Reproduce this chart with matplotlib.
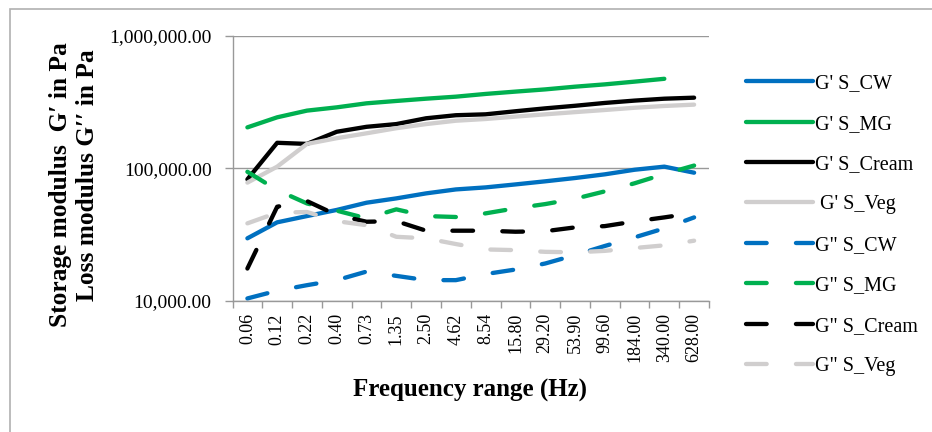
import matplotlib
matplotlib.use("Agg")
import matplotlib.pyplot as plt
import numpy as np
from matplotlib.patches import Rectangle
from matplotlib.ticker import FixedLocator, FuncFormatter, NullLocator

plt.rcParams['font.family'] = ['Liberation Serif', 'DejaVu Serif']

freq_labels = ["0.06", "0.12", "0.22", "0.40", "0.73", "1.35", "2.50", "4.62",
               "8.54", "15.80", "29.20", "53.90", "99.60", "184.00", "340.00", "628.00"]
nan = np.nan
gp_cw = [29600, 39100, 43600, 48500, 55000, 59300, 64700, 69300,
         71800, 75600, 79800, 84500, 90100, 97600, 103000, 92700]
gp_mg = [204000, 243000, 273000, 289000, 310000, 323000, 336000, 348000,
         365000, 380000, 395000, 414000, 431000, 452000, 475000, nan]
gp_cream = [82600, 156000, 153000, 189000, 206000, 216000, 239000, 252000,
            256000, 270000, 284000, 297000, 312000, 325000, 336000, 342000]
gp_veg = [78000, 103000, 153000, 169000, 184000, 201000, 216000, 229000,
          236000, 246000, 256000, 266000, 276000, 287000, 296000, 303000]
gpp_cw = [10400, 11900, 13100, 14300, 16600, 15400, 14300, 14300,
          15900, 17200, 19100, 22100, 25900, 30100, 35200, 42600]
gpp_mg = [94200, 68500, 54300, 47900, 41900, 49000, 43600, 42900,
          45700, 49900, 53700, 58900, 67000, 77100, 90600, 105000]
gpp_cream = [17500, 51300, 56600, 44400, 39500, 39900, 33800, 33800,
             33800, 33200, 33500, 35800, 36600, 39700, 42600, 46000]
gpp_veg = [38400, 46200, 46800, 39900, 37200, 30400, 29600, 26800,
           24400, 24100, 23400, 23200, 23800, 25000, 26200, 28400]

series = [
    ("G' S_CW", gp_cw, '#0070C0', False),
    ("G' S_MG", gp_mg, '#00B050', False),
    ("G' S_Cream", gp_cream, '#000000', False),
    (" G' S_Veg", gp_veg, '#D0CECE', False),
    ('G" S_CW', gpp_cw, '#0070C0', True),
    ('G" S_MG', gpp_mg, '#00B050', True),
    ('G" S_Cream', gpp_cream, '#000000', True),
    ('G" S_Veg', gpp_veg, '#D0CECE', True),
]

W, H = 932, 432
fig = plt.figure(figsize=(W / 100, H / 100), dpi=100)
ax = fig.add_axes([232.5 / W, 1 - 300.7 / H, (709 - 232.5) / W, (300.7 - 36) / H])

x = np.arange(len(freq_labels))
lw = 3.1
for name, vals, col, dashed in series:
    line, = ax.plot(x, vals, color=col, lw=lw, label=name,
                    solid_capstyle='round', dash_capstyle='round',
                    solid_joinstyle='round')
    if dashed:
        line.set_dashes((4.8, 6.8))

ax.set_yscale('log')
ax.set_ylim(1e4, 1e6)
ax.set_xlim(-0.5, len(freq_labels) - 0.5)
ax.yaxis.set_major_locator(FixedLocator([1e4, 1e5, 1e6]))
ax.yaxis.set_minor_locator(NullLocator())
ax.yaxis.set_major_formatter(FuncFormatter(lambda v, p: f"{v:,.2f}"))
ax.set_xticks(x)
ax.set_xticklabels(freq_labels, rotation=90, fontsize=13)
ax.set_xticks(np.arange(-0.5, len(freq_labels)), minor=True)
ax.tick_params(axis='x', which='major', length=0, pad=9)
ax.tick_params(axis='x', which='minor', length=5, color='#999999', width=1)
ax.tick_params(axis='y', which='major', length=6, color='#999999', width=1,
               labelsize=14, pad=9)
ax.grid(axis='y', which='major', color='#999999', lw=1)
ax.set_axisbelow(True)
for s in ['top', 'right']:
    ax.spines[s].set_visible(False)
for s in ['left', 'bottom']:
    ax.spines[s].set_color('#999999')
    ax.spines[s].set_linewidth(1)

fig.text(470 / W, 1 - 390 / H, "Frequency range (Hz)", ha='center', va='center',
         fontsize=18, fontweight='bold')
fig.text(61 / W, 1 - 185 / H, "Storage modulus  G\u2032 in Pa", ha='center', va='center',
         rotation=90, fontsize=18.3, fontweight='bold')
fig.text(87 / W, 1 - 175 / H, "Loss modulus G\u2032\u2032 in Pa", ha='center', va='center',
         rotation=90, fontsize=18.3, fontweight='bold')

handles, labels = ax.get_legend_handles_labels()
leg = fig.legend(handles, labels, loc='upper left',
                 bbox_to_anchor=(738 / W, 1 - 66 / H), frameon=False,
                 fontsize=14.5, handlelength=3.3, handletextpad=0.1,
                 labelspacing=1.06, borderaxespad=0)

fig.patches.append(Rectangle((9.5 / W, -0.1), 1.2, (H - 9.5) / H + 0.1,
                             transform=fig.transFigure, fill=False,
                             edgecolor='#B0B0B0', lw=1.2))

fig.savefig('out.png', dpi=100)
